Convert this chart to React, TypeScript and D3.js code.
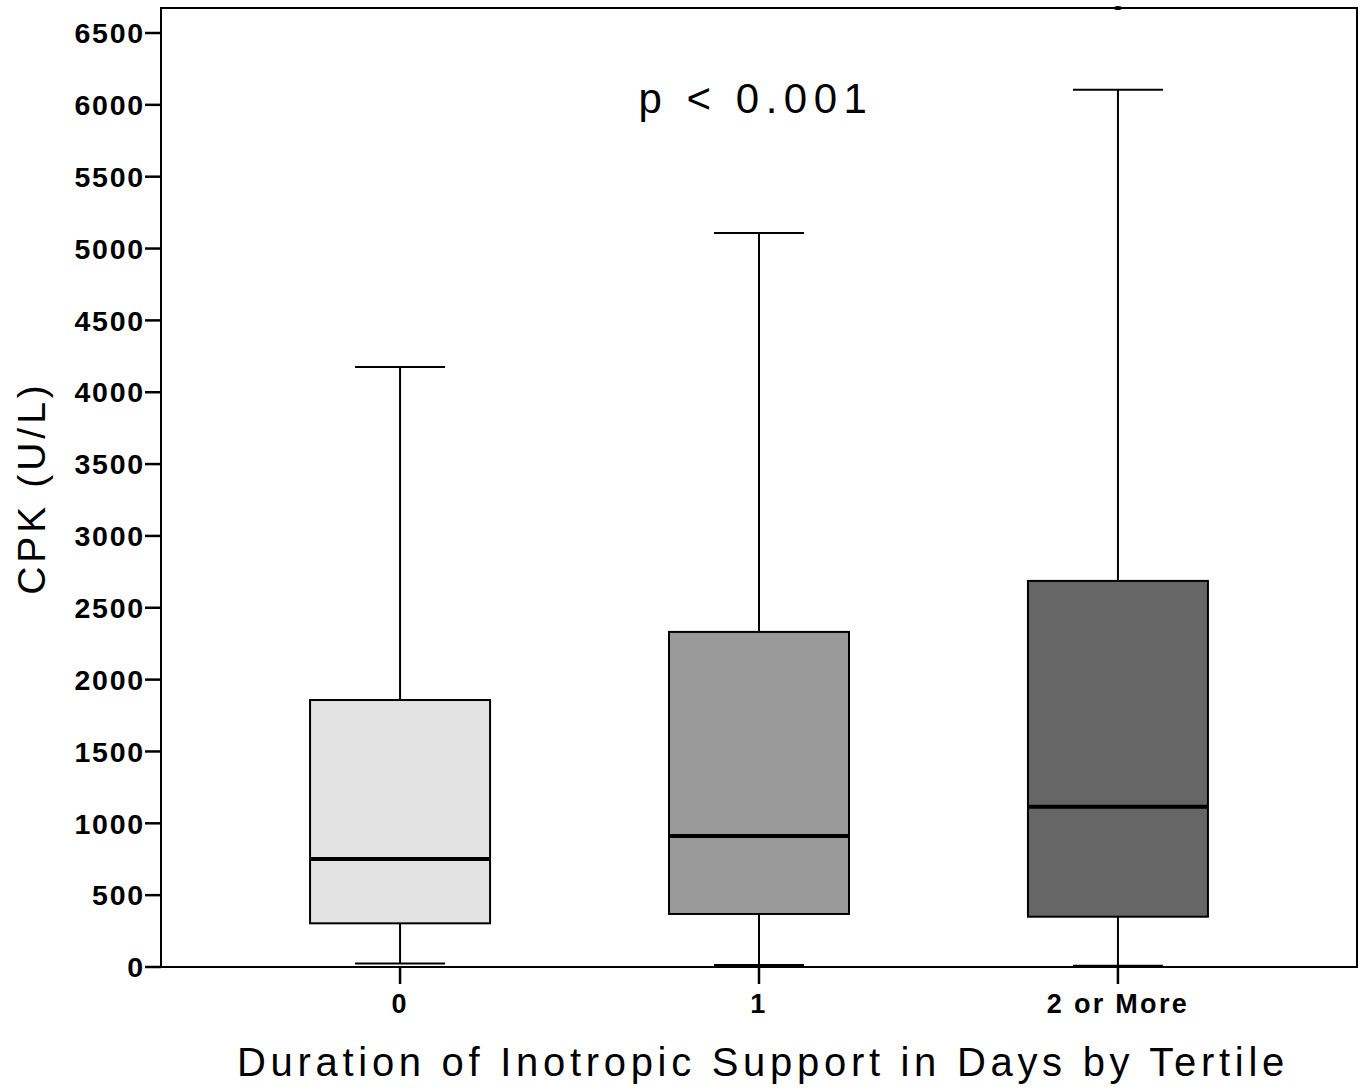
import React from "react";
import * as d3 from "d3";

const categories = ["0", "1", "2 or More"];
const whiskerLow = [25, 14, 9];
const q1 = [304, 369, 350];
const median = [752, 912, 1116];
const q3 = [1858, 2332, 2687];
const whiskerHigh = [4176, 5109, 6105];
const fills = ["#e3e3e3", "#999999", "#666666"];
const yTicks = [0, 500, 1000, 1500, 2000, 2500, 3000, 3500, 4000, 4500, 5000, 5500, 6000, 6500];
const outliers = [{ cat: "2 or More", value: 6680 }];

const W = 1365;
const H = 1090;
const left = 161;
const right = 1357;
const top = 8;
const bottom = 967;

export default function App() {
  const y = d3.scaleLinear().domain([0, 6500]).range([bottom, 33]);
  const x = d3.scalePoint<string>().domain(categories).range([left, right]).padding(0.666);
  const boxW = 180;
  const capW = 90;
  const font = "Arial, 'Liberation Sans', sans-serif";

  return (
    <svg width={W} height={H} style={{ position: "absolute", left: 0, top: 0, background: "#fff" }}>
      <rect x={0} y={0} width={W} height={H} fill="#fff" />
      {categories.map((c, i) => {
        const cx = x(c)!;
        return (
          <g key={c}>
            <line x1={cx} x2={cx} y1={y(whiskerHigh[i])} y2={y(q3[i])} stroke="#000" strokeWidth={2} />
            <line x1={cx} x2={cx} y1={y(q1[i])} y2={y(whiskerLow[i])} stroke="#000" strokeWidth={2} />
            <line x1={cx - capW / 2} x2={cx + capW / 2} y1={y(whiskerHigh[i])} y2={y(whiskerHigh[i])} stroke="#000" strokeWidth={2} />
            <line x1={cx - capW / 2} x2={cx + capW / 2} y1={y(whiskerLow[i])} y2={y(whiskerLow[i])} stroke="#000" strokeWidth={2} />
            <rect x={cx - boxW / 2} y={y(q3[i])} width={boxW} height={y(q1[i]) - y(q3[i])} fill={fills[i]} stroke="#000" strokeWidth={2} />
            <line x1={cx - boxW / 2} x2={cx + boxW / 2} y1={y(median[i])} y2={y(median[i])} stroke="#000" strokeWidth={4} />
          </g>
        );
      })}
      {outliers.map((o, i) => (
        <ellipse key={i} cx={x(o.cat)!} cy={Math.max(y(o.value), top)} rx={4} ry={2} fill="#000" />
      ))}
      <rect x={left} y={top} width={right - left} height={bottom - top} fill="none" stroke="#000" strokeWidth={2} />
      {yTicks.map((t) => (
        <g key={t}>
          <line x1={left - 16} x2={left} y1={y(t)} y2={y(t)} stroke="#000" strokeWidth={2.5} />
          <text x={left - 16} y={y(t)} dy="0.36em" textAnchor="end" fontFamily={font} fontWeight="bold" fontSize={28.5} letterSpacing={1.8} fill="#000">
            {t}
          </text>
        </g>
      ))}
      {categories.map((c) => (
        <g key={c}>
          <line x1={x(c)!} x2={x(c)!} y1={bottom} y2={bottom + 17} stroke="#000" strokeWidth={2.5} />
          <text x={x(c)!} y={1013} textAnchor="middle" fontFamily={font} fontWeight="bold" fontSize={27} letterSpacing={2.3} fill="#000">
            {c}
          </text>
        </g>
      ))}
      <text x={763} y={1076} textAnchor="middle" fontFamily={font} fontSize={40} letterSpacing={4.7} fill="#000">
        Duration of Inotropic Support in Days by Tertile
      </text>
      <text transform="translate(45,488) rotate(-90)" textAnchor="middle" fontFamily={font} fontSize={39} letterSpacing={4} fill="#000">
        CPK (U/L)
      </text>
      <text x={756} y={113} textAnchor="middle" fontFamily={font} fontSize={42} letterSpacing={6.5} fill="#000">
        p &lt; 0.001
      </text>
    </svg>
  );
}
